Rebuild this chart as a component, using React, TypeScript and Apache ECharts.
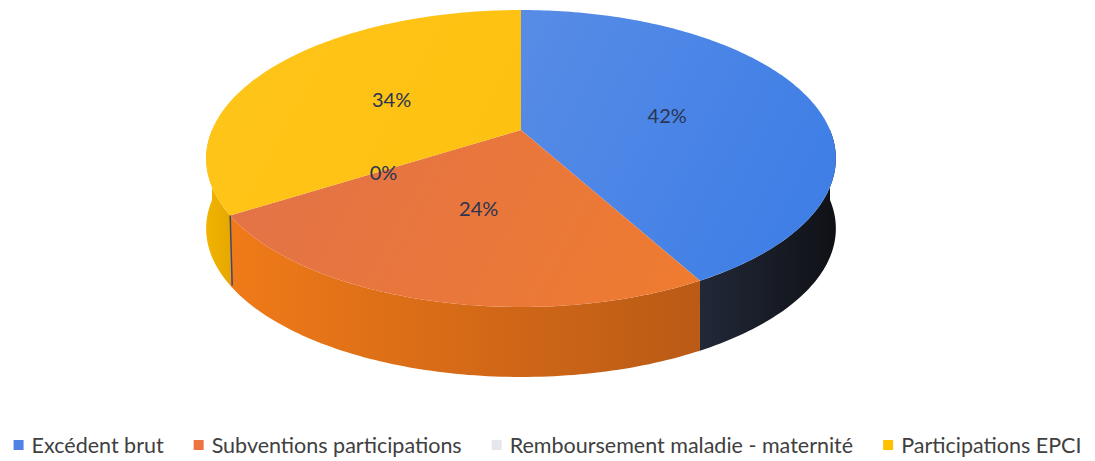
import React, { useEffect, useRef } from "react";
import * as echarts from "echarts";

// ---- data ----
const categories = [
  "Excédent brut",
  "Subventions participations",
  "Remboursement maladie - maternité",
  "Participations EPCI",
];
const values = [42, 24, 0, 34];
const legendColors = ["#4F82E2", "#EE7343", "#E6E6EC", "#FFC000"];
const topColors = [
  ["#6C97E6", "#3A7CE6"],
  ["#E0704E", "#F27E28"],
  ["#E6E6EC", "#E6E6EC"],
  ["#FFC51A", "#FBBD06"],
];
const sideColors = [
  ["#222838", "#0F1116"],
  ["#F07A18", "#BA5A16"],
  ["#E6E6EC", "#CCCCD2"],
  ["#F2B400", "#E6A800"],
];

// ---- geometry (layout) ----
const CX = 521;
const CY = 130;
const R = 309;
const RY = 143;
const PERSP = 0.192;
const DEPTH = 70;

function proj(theta: number, r: number, drop: number): number[] {
  const X = r * Math.sin(theta);
  const Z = -r * Math.cos(theta);
  const s = 1 / (1 - PERSP * Z);
  return [CX + R * X * s, CY + RY * Z * s + drop];
}

function arc(a0: number, a1: number, r: number, drop: number): number[][] {
  const pts: number[][] = [];
  const n = Math.max(2, Math.ceil(Math.abs(a1 - a0) / (Math.PI / 180)));
  for (let k = 0; k <= n; k++) {
    pts.push(proj(a0 + ((a1 - a0) * k) / n, r, drop));
  }
  return pts;
}

export default function App() {
  const ref = useRef<HTMLDivElement>(null);
  useEffect(() => {
    document.body.style.margin = "0";
    if (!ref.current) return;
    const chart = echarts.init(ref.current, null, { renderer: "svg" });
    const total = values.reduce((a, b) => a + b, 0);
    const starts: number[] = [];
    let acc = 0;
    values.forEach((v) => {
      starts.push((acc / total) * Math.PI * 2);
      acc += v;
    });

    const series = categories.map((name, i) => ({
      name,
      type: "custom",
      coordinateSystem: "none",
      z: values[i] > 0 ? 2 : 6,
      itemStyle: { color: legendColors[i] },
      data: [[i]],
      renderItem: () => {
        const a0 = starts[i];
        const a1 = a0 + (values[i] / total) * Math.PI * 2;
        const children: any[] = [];
        if (values[i] > 0) {
          const lo = Math.max(a0, Math.PI / 2);
          const hi = Math.min(a1, (Math.PI * 3) / 2);
          if (lo < hi) {
            const topArc = arc(lo, hi, 1, 0);
            const botArc = arc(hi, lo, 1, DEPTH);
            const xs = topArc.map((p) => p[0]);
            const minX = Math.min(...xs);
            const maxX = Math.max(...xs);
            children.push({
              type: "polygon",
              shape: { points: topArc.concat(botArc) },
              style: {
                fill: new echarts.graphic.LinearGradient(
                  minX, 0, maxX, 0,
                  [
                    { offset: 0, color: sideColors[i][0] },
                    { offset: 1, color: sideColors[i][1] },
                  ],
                  true
                ),
                stroke: null,
              },
            });
          }
          const topPts = [[CX, CY]].concat(arc(a0, a1, 1, 0));
          children.push({
            type: "polygon",
            shape: { points: topPts },
            style: {
              fill: new echarts.graphic.LinearGradient(
                CX - R, CY - RY, CX + R, CY + RY * 1.3,
                [
                  { offset: 0, color: topColors[i][0] },
                  { offset: 1, color: topColors[i][1] },
                ],
                true
              ),
              stroke: null,
            },
          });
        } else {
          const p0 = proj(a0, 1, 0);
          children.push({
            type: "line",
            shape: { x1: p0[0], y1: p0[1], x2: p0[0] + 2, y2: p0[1] + DEPTH },
            style: { stroke: "#3C4A6A", lineWidth: 1.5 },
          });
        }
        const mid = a0 + (values[i] / total) * Math.PI;
        const lp = proj(mid, 0.5, 2);
        children.push({
          type: "text",
          x: lp[0],
          y: lp[1],
          z2: 10,
          style: {
            text: Math.round((values[i] / total) * 100) + "%",
            fill: "#2B3452",
            font: "20px Lato",
            align: "center",
            verticalAlign: "middle",
          },
        });
        return { type: "group", children };
      },
    }));

    chart.setOption({
      animation: false,
      backgroundColor: "#ffffff",
      legend: {
        data: categories,
        left: "center",
        top: 429,
        icon: "rect",
        itemWidth: 10,
        itemHeight: 10,
        itemGap: 30,
        selectedMode: false,
        textStyle: {
          fontSize: 21.5,
          fontFamily: "Lato",
          color: "#404040",
          padding: [0, 0, 0, 3],
        },
      },
      series,
    });
    return () => chart.dispose();
  }, []);
  return <div ref={ref} style={{ width: 1095, height: 461 }} />;
}
